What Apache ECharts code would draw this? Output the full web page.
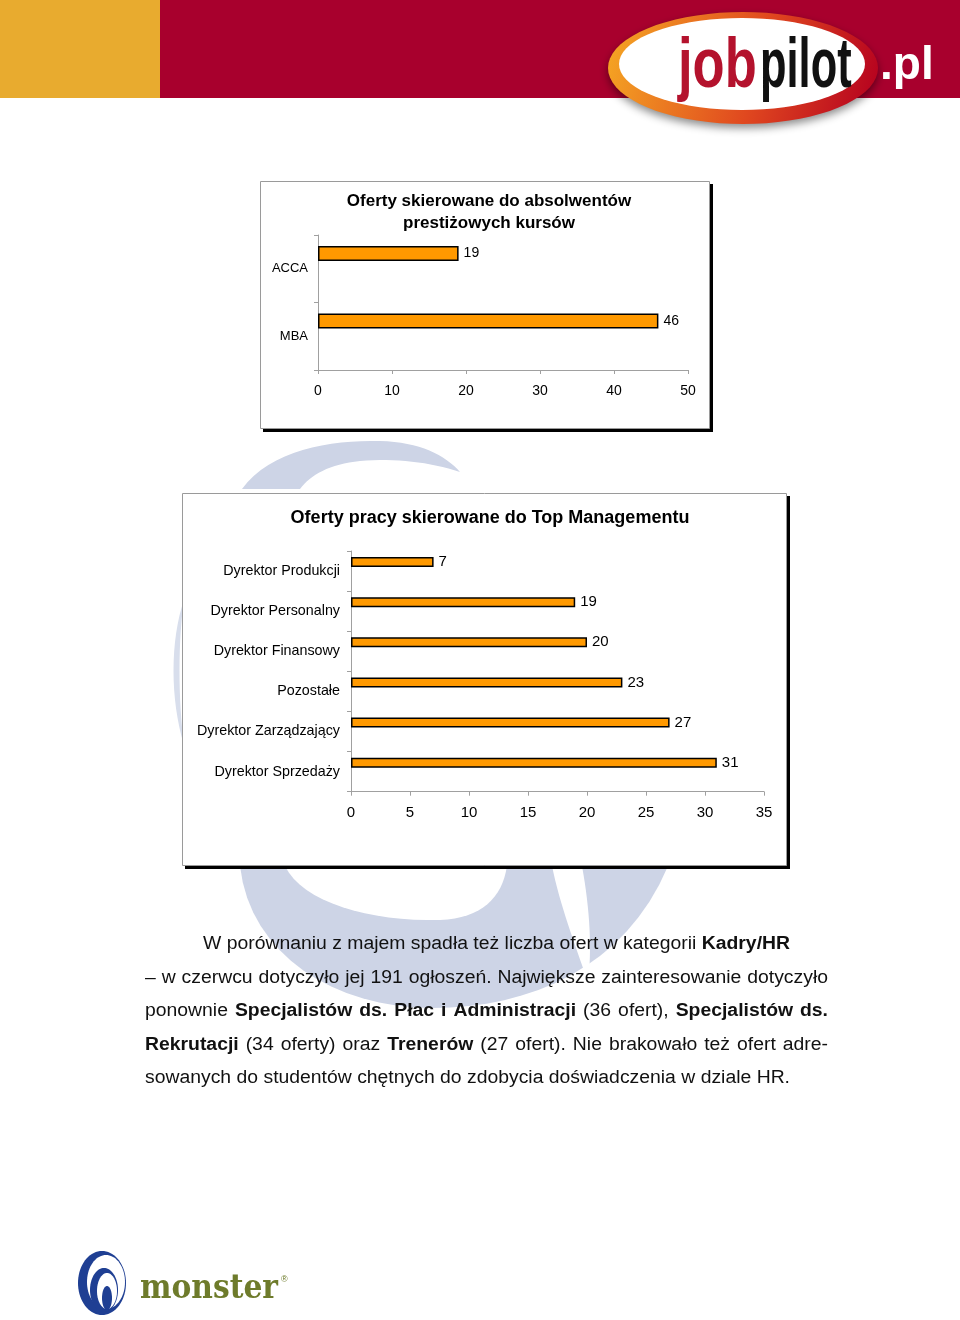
<!DOCTYPE html>
<html><head><meta charset="utf-8">
<script src="https://cdn.jsdelivr.net/npm/echarts@6/dist/echarts.min.js"></script>
<style>html,body{margin:0;padding:0;background:#fff}#c{width:960px;height:1320px}</style>
</head><body><div id="c"></div>
<script>
// ---- data ----
const courseCategories = ['ACCA', 'MBA'];
const courseValues = [19, 46];
const courseAxis = { min: 0, max: 50, interval: 10 };
const chart1Title = 'Oferty skierowane do absolwentów\nprestiżowych kursów';

const mgmtCategories = ['Dyrektor Produkcji', 'Dyrektor Personalny', 'Dyrektor Finansowy', 'Pozostałe', 'Dyrektor Zarządzający', 'Dyrektor Sprzedaży'];
const mgmtValues = [7, 19, 20, 23, 27, 31];
const mgmtAxis = { min: 0, max: 35, interval: 5 };
const chart2Title = 'Oferty pracy skierowane do Top Managementu';

// '*' marks a bold word
const paragraphLines = [
  'W porównaniu z majem spadła też liczba ofert w kategorii *Kadry/HR',
  '– w czerwcu dotyczyło jej 191 ogłoszeń. Największe zainteresowanie dotyczyło',
  'ponownie *Specjalistów *ds. *Płac *i *Administracji (36 ofert), *Specjalistów *ds.',
  '*Rekrutacji (34 oferty) oraz *Trenerów (27 ofert). Nie brakowało też ofert adre-',
  'sowanych do studentów chętnych do zdobycia doświadczenia w dziale HR.'
];

// ---- layout helpers ----
const FF = '"Liberation Sans", Arial, Helvetica, sans-serif';
const lineBoxes = [[203, 790, 944], [145, 828, 978], [145, 828, 1011], [145, 828, 1045], [145, 790, 1078]];
const ctx = document.createElement('canvas').getContext('2d');
function measure(t, bold, fs) { ctx.font = (bold ? 'bold ' : '') + fs + 'px ' + FF; return ctx.measureText(t).width; }
function measureFont(t, font) { ctx.font = font; return ctx.measureText(t).width; }

// sample an SVG-like path (M, L, C, Z) into polygon points
function pathPoints(d) {
  const tok = d.match(/[MLCZ]|-?\d*\.?\d+/g);
  const pts = []; let i = 0, cmd = '', cur = [0, 0];
  while (i < tok.length) {
    if (/[MLCZ]/.test(tok[i])) { cmd = tok[i++]; if (cmd === 'Z') continue; }
    if (cmd === 'M' || cmd === 'L') { cur = [+tok[i], +tok[i + 1]]; i += 2; pts.push(cur); }
    else if (cmd === 'C') {
      const p1 = [+tok[i], +tok[i + 1]], p2 = [+tok[i + 2], +tok[i + 3]], p3 = [+tok[i + 4], +tok[i + 5]]; i += 6;
      const p0 = cur;
      for (let s = 1; s <= 16; s++) {
        const t = s / 16, u = 1 - t;
        pts.push([u * u * u * p0[0] + 3 * u * u * t * p1[0] + 3 * u * t * t * p2[0] + t * t * t * p3[0],
                  u * u * u * p0[1] + 3 * u * u * t * p1[1] + 3 * u * t * t * p2[1] + t * t * t * p3[1]]);
      }
      cur = p3;
    } else i++;
  }
  return pts;
}
function ellPts(cx, cy, rx, ry) {
  const p = []; for (let k = 0; k < 72; k++) { const a = k / 72 * Math.PI * 2; p.push([cx + rx * Math.cos(a), cy + ry * Math.sin(a)]); } return p;
}
function poly(points, style, z) { return { type: 'polygon', z: z || 0, shape: { points: points }, style: style }; }

// paragraph: words placed with justification; horizontal scale taken from the natural last line
const PFS = 18;
function parseWords(line) { return line.split(' ').map(w => w[0] === '*' ? { t: w.slice(1), b: true } : { t: w, b: false }); }
const lastWords = parseWords(paragraphLines[4]);
const lastNatural = lastWords.reduce((a, w) => a + measure(w.t, w.b, PFS), 0) + (lastWords.length - 1) * measure(' ', false, PFS);
const TSX = (lineBoxes[4][1] - lineBoxes[4][0]) / lastNatural;
const textEls = [];
paragraphLines.forEach((line, i) => {
  const words = parseWords(line);
  const widths = words.map(w => measure(w.t, w.b, PFS) * TSX);
  const total = widths.reduce((a, b) => a + b, 0);
  const [x0, x1, y] = lineBoxes[i];
  const gap = (x1 - x0 - total) / (words.length - 1);
  let x = x0;
  words.forEach((w, k) => {
    textEls.push({ type: 'text', x: x, y: y, z: 5, scaleX: TSX, style: { text: w.t, x: 0, y: 0, verticalAlign: 'middle', align: 'left', fill: '#111', font: (w.b ? 'bold ' : '') + PFS + 'px ' + FF } });
    x += widths[k] + gap;
  });
});

const WM = '#cdd4e6';
const BLUE = '#1f3f93';
const MONSTER_FONT = 'bold 34px "DejaVu Serif", serif';
const monsterW = measureFont('monster', MONSTER_FONT);

const graphics = [
  // watermark
  poly(pathPoints('M242,489 C270,450 330,440 380,441 C420,442 445,455 460,472 C430,462 395,458 360,461 C330,464 310,475 300,489 Z'), { fill: WM }),
  poly(pathPoints('M184,600 C170,640 170,700 184,745 C178,700 178,640 184,600 Z'), { fill: '#d8deec' }),
  poly(pathPoints('M240,866 C250,955 335,1008 432,1008 C530,1008 625,968 668,866 Z'), { fill: WM }),
  poly(pathPoints('M285,866 C302,902 370,922 440,920 C482,918 502,898 507,866 Z'), { fill: '#fff' }),
  poly(pathPoints('M552,866 L582,866 C590,910 592,950 588,982 C575,945 560,905 552,866 Z'), { fill: '#fff' }),
  // chart boxes
  { type: 'rect', z: 1, shape: { x: 263, y: 184, width: 450, height: 248 }, style: { fill: '#000' } },
  { type: 'rect', z: 1, shape: { x: 260.5, y: 181.5, width: 449, height: 247 }, style: { fill: '#fff', stroke: '#9a9a9a', lineWidth: 1 } },
  { type: 'rect', z: 1, shape: { x: 185, y: 496, width: 605, height: 373 }, style: { fill: '#000' } },
  { type: 'rect', z: 1, shape: { x: 182.5, y: 493.5, width: 604, height: 372 }, style: { fill: '#fff', stroke: '#9a9a9a', lineWidth: 1 } },
  // header
  { type: 'rect', z: 1, shape: { x: 0, y: 0, width: 160, height: 98 }, style: { fill: '#E8AB2F' } },
  { type: 'rect', z: 1, shape: { x: 160, y: 0, width: 800, height: 98 }, style: { fill: '#A8002D' } },
  poly(ellPts(743, 68, 135, 56), {
    fill: { type: 'linear', x: 0, y: 0.2, x2: 1, y2: 0.8, colorStops: [{ offset: 0, color: '#f5a623' }, { offset: 0.55, color: '#e0481f' }, { offset: 1, color: '#b5001f' }] },
    shadowBlur: 8, shadowColor: 'rgba(0,0,0,0.45)', shadowOffsetY: 4 }, 2),
  poly(ellPts(742, 64, 123, 46), { fill: '#fff' }, 2),
  { type: 'text', z: 3, x: 678, y: 68, scaleX: 0.75, style: { text: 'job', x: 0, y: 0, verticalAlign: 'middle', align: 'left', fill: '#b4122d', font: 'bold 70px ' + FF } },
  { type: 'text', z: 3, x: 760, y: 68, scaleX: 0.62, style: { text: 'pilot', x: 0, y: 0, verticalAlign: 'middle', align: 'left', fill: '#111', font: 'bold 70px ' + FF } },
  { type: 'text', z: 3, x: 880, y: 66, style: { text: '.pl', x: 0, y: 0, verticalAlign: 'middle', align: 'left', fill: '#fff', font: 'bold 46px ' + FF } },
  // monster logo
  poly(ellPts(102, 1283, 24, 32), { fill: BLUE }, 2),
  poly(ellPts(106, 1282, 19, 27), { fill: '#fff' }, 2),
  poly(ellPts(104, 1290, 14, 22), { fill: BLUE }, 2),
  poly(ellPts(107, 1291, 10, 18), { fill: '#fff' }, 2),
  poly(ellPts(107, 1298, 5, 12), { fill: BLUE }, 2),
  { type: 'text', z: 3, x: 140, y: 1289, scaleX: 138 / monsterW, style: { text: 'monster', x: 0, y: 0, verticalAlign: 'middle', align: 'left', fill: '#6e7b2b', font: MONSTER_FONT } },
  { type: 'text', z: 3, x: 281, y: 1280, style: { text: '®', x: 0, y: 0, verticalAlign: 'middle', align: 'left', fill: '#6e7b2b', font: '9px ' + FF } }
].concat(textEls);

const axisLineGray = { show: true, lineStyle: { color: '#a0a0a0', width: 1 } };
const tickGray = { show: true, length: 4, lineStyle: { color: '#a0a0a0' } };
const barStyle = { color: '#FF9900', borderColor: '#000', borderWidth: 1.5 };

const chart = echarts.init(document.getElementById('c'), null, { renderer: 'canvas' });
chart.setOption({
  animation: false,
  backgroundColor: '#fff',
  title: [
    { text: chart1Title, left: 484, top: 185, z: 6, textAlign: 'center', textStyle: { fontFamily: FF, fontSize: 17, fontWeight: 'bold', color: '#000', lineHeight: 22 } },
    { text: chart2Title, left: 485, top: 502, z: 6, textAlign: 'center', textStyle: { fontFamily: FF, fontSize: 18, fontWeight: 'bold', color: '#000', lineHeight: 22 } }
  ],
  grid: [
    { left: 318, top: 235, width: 370, height: 135 },
    { left: 351, top: 551, width: 413, height: 240.7 }
  ],
  xAxis: [
    { type: 'value', gridIndex: 0, z: 6, min: courseAxis.min, max: courseAxis.max, interval: courseAxis.interval, axisLine: axisLineGray, axisTick: tickGray, splitLine: { show: false }, axisLabel: { color: '#000', fontSize: 14, margin: 14, fontFamily: FF } },
    { type: 'value', gridIndex: 1, z: 6, min: mgmtAxis.min, max: mgmtAxis.max, interval: mgmtAxis.interval, axisLine: axisLineGray, axisTick: tickGray, splitLine: { show: false }, axisLabel: { color: '#000', fontSize: 15, margin: 14, fontFamily: FF } }
  ],
  yAxis: [
    { type: 'category', gridIndex: 0, z: 6, data: courseCategories, inverse: true, axisLine: axisLineGray, axisTick: tickGray, axisLabel: { color: '#000', fontSize: 13, margin: 10, fontFamily: FF } },
    { type: 'category', gridIndex: 1, z: 6, data: mgmtCategories, inverse: true, axisLine: axisLineGray, axisTick: tickGray, axisLabel: { color: '#000', fontSize: 14.3, margin: 11, fontFamily: FF } }
  ],
  series: [
    { type: 'bar', xAxisIndex: 0, yAxisIndex: 0, data: courseValues, barWidth: 15, barGap: '104%', z: 10, itemStyle: barStyle,
      label: { show: true, position: 'right', distance: 5, color: '#000', fontSize: 14, fontFamily: FF } },
    { type: 'bar', xAxisIndex: 0, yAxisIndex: 0, data: courseCategories.map(() => null), barWidth: 15, barGap: '104%', silent: true },
    { type: 'bar', xAxisIndex: 1, yAxisIndex: 1, data: mgmtValues, barWidth: 10, barGap: '80%', z: 10, itemStyle: barStyle,
      label: { show: true, position: 'right', distance: 5, color: '#000', fontSize: 15, fontFamily: FF } },
    { type: 'bar', xAxisIndex: 1, yAxisIndex: 1, data: mgmtCategories.map(() => null), barWidth: 10, barGap: '80%', silent: true }
  ],
  graphic: { elements: graphics }
});
</script>
</body></html>
